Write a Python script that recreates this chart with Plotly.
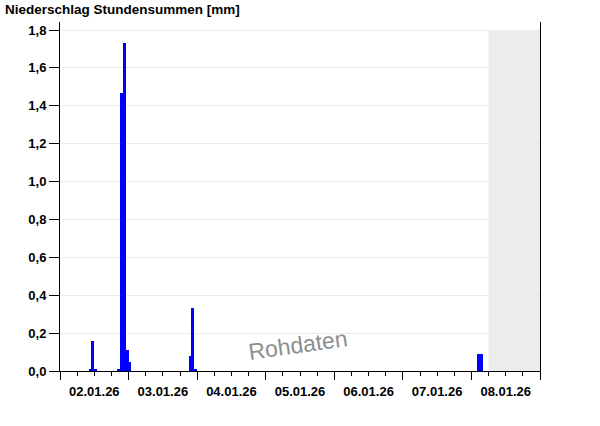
import plotly.graph_objects as go

# Hourly precipitation sums (start of hour) – only non-zero hours
hour_starts = [
    "2026-01-02 10:00", "2026-01-02 11:00", "2026-01-02 12:00",
    "2026-01-02 20:00", "2026-01-02 21:00", "2026-01-02 22:00",
    "2026-01-02 23:00", "2026-01-03 00:00",
    "2026-01-03 21:00", "2026-01-03 22:00", "2026-01-03 23:00",
    "2026-01-08 02:00", "2026-01-08 03:00",
]
precip_mm = [0.01, 0.16, 0.01, 0.01, 1.47, 1.73, 0.11, 0.05, 0.08, 0.33, 0.01, 0.09, 0.09]

x_start = "2026-01-02 00:00"
x_end = "2026-01-09 00:00"
future_start = "2026-01-08 06:00"
y_ticks = [0.0, 0.2, 0.4, 0.6, 0.8, 1.0, 1.2, 1.4, 1.6, 1.8]
y_max_grid = 1.8
y_top = 1.8 * 349 / 341

HOUR = 3600000
DAY = 24 * HOUR

font_family = "Liberation Sans, Arial, sans-serif"

fig = go.Figure()
fig.add_trace(go.Bar(
    x=hour_starts, y=precip_mm, width=[HOUR] * len(hour_starts), offset=0,
    marker=dict(color="#0000ff", line=dict(width=0)),
    hoverinfo="x+y", showlegend=False,
))
# invisible trace for right-hand helper axis
fig.add_trace(go.Scatter(x=[x_start], y=[0], xaxis="x", yaxis="y2",
                         mode="markers", marker=dict(opacity=0),
                         showlegend=False, hoverinfo="skip"))

fig.add_shape(type="rect", xref="x", yref="y",
              x0=future_start, x1=x_end, y0=0, y1=y_max_grid,
              fillcolor="#ececec", line=dict(width=0), layer="between")

fig.update_layout(
    width=600, height=426,
    margin=dict(l=60, r=60, t=22, b=55, pad=0),
    paper_bgcolor="white", plot_bgcolor="white",
    separators=",.",
    bargap=0,
    font=dict(family=font_family, size=13, color="black"),
    title=dict(text="<b>Niederschlag Stundensummen [mm]</b>",
               x=5 / 600, xanchor="left", xref="container",
               y=1 - 9 / 426, yanchor="middle", yref="container",
               font=dict(family=font_family, size=13.5, color="black")),
    xaxis=dict(
        type="date", range=[x_start, x_end],
        tickmode="linear", tick0=x_start, dtick=DAY,
        ticklabelmode="period", tickformat="%d.%m.%y",
        ticks="outside", ticklen=8, tickcolor="black", tickwidth=1,
        tickfont=dict(family=font_family, size=13, color="black", weight="bold"),
        showline=True, linecolor="black", linewidth=1,
        showgrid=False, zeroline=False,
        minor=dict(tick0=x_start, dtick=6 * HOUR, ticks="outside", ticklen=4,
                   tickcolor="black", showgrid=False),
    ),
    yaxis=dict(
        range=[0, y_top], tickmode="array", tickvals=y_ticks, tickformat=".1f",
        ticks="outside", ticklen=10, tickcolor="black",
        tickfont=dict(family=font_family, size=13, color="black", weight="bold"),
        showline=True, linecolor="black", linewidth=1, mirror=True,
        showgrid=True, gridcolor="#ebebeb", gridwidth=1, zeroline=False,
    ),
    yaxis2=dict(
        overlaying="y", side="right", range=[0, y_top], tickmode="array",
        tickvals=y_ticks, ticks="inside", ticklen=3, tickcolor="#dddddd",
        showticklabels=False, showgrid=False, showline=False, zeroline=False,
    ),
    annotations=[dict(
        text="Rohdaten", xref="paper", yref="paper", x=0.496, y=0.075,
        xanchor="center", yanchor="middle",
        showarrow=False, textangle=-8,
        font=dict(family=font_family, size=23, color="#8e8e8e"),
    )],
)

fig.write_html("out.html", config={"displayModeBar": False},
               post_script="document.body.style.margin='0';document.body.style.padding='0';")
